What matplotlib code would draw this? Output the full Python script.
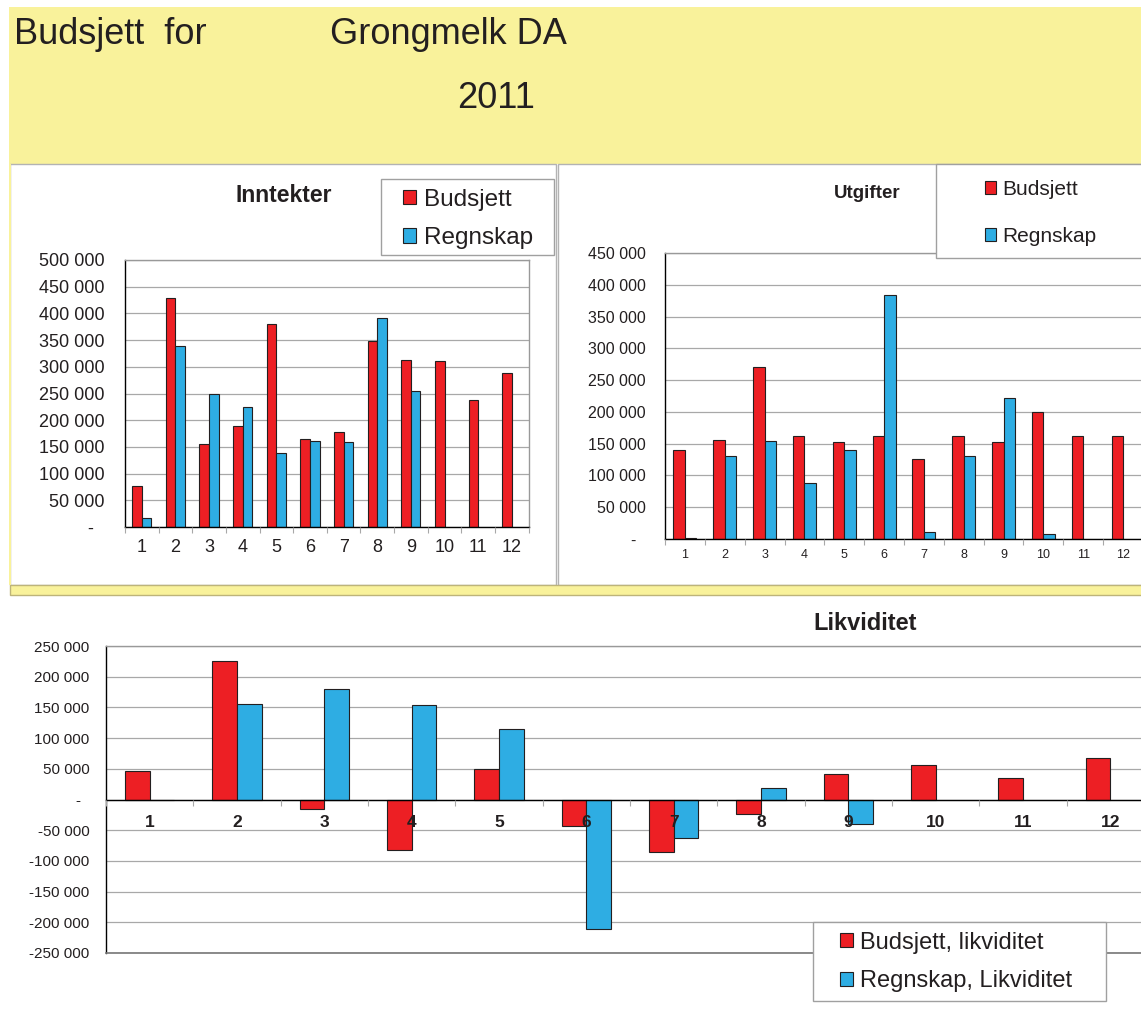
import numpy as np
import matplotlib
matplotlib.use("Agg")
import matplotlib.pyplot as plt
from matplotlib.patches import Rectangle

plt.rcParams['font.family'] = ['Liberation Sans', 'DejaVu Sans']

W, H = 1141, 1023
YELLOW = "#F9F29B"
RED = "#ED1F24"
BLUE = "#2EADE3"
EDGE = "#231F20"
GRID = "#A8A8A8"
TXT = "#231F20"

months = [str(m) for m in range(1, 13)]

# Inntekter (income)
inn_budsjett = [77000, 429000, 156000, 190000, 380000, 164000, 178000, 348000, 313000, 310000, 237000, 289000]
inn_regnskap = [17500, 339000, 250000, 225000, 139500, 161000, 159500, 391000, 255500, np.nan, np.nan, np.nan]

# Utgifter (expenses)
utg_budsjett = [139500, 155800, 270600, 162000, 152600, 162000, 125400, 162000, 152600, 199800, 162600, 162000]
utg_regnskap = [2000, 130000, 154700, 88000, 139500, 384500, 11000, 130000, 222000, 8000, np.nan, np.nan]

# Likviditet (liquidity)
lik_budsjett = [46000, 225000, -16000, -82500, 50000, -43000, -85000, -24000, 41500, 57000, 35500, 68000]
lik_regnskap = [-1500, 155500, 180500, 154500, 114500, -211500, -62000, 19000, -40000, np.nan, np.nan, np.nan]


def box(x0, y0, x1, y1):
    return [x0 / W, 1 - y1 / H, (x1 - x0) / W, (y1 - y0) / H]


def rect(x0, y0, x1, y1, **kw):
    r = Rectangle((x0 / W, 1 - y1 / H), (x1 - x0) / W, (y1 - y0) / H,
                  transform=fig.transFigure, **kw)
    fig.add_artist(r)
    return r


def fmt(v, _=None):
    if v == 0:
        return "-  "
    return f"{int(v):,}".replace(",", " ")


def bar_chart(ax, bud, reg, width, ymin, ymax, step, ysize, ypad, xsize, xpad):
    x = np.arange(1, 13)
    hb = ax.bar(x - width / 2, bud, width, color=RED, edgecolor=EDGE, linewidth=0.8, zorder=1.5)
    hr = ax.bar(x + width / 2, reg, width, color=BLUE, edgecolor=EDGE, linewidth=0.8, zorder=1.5)
    ax.set_xlim(0.5, 12.5)
    ax.set_ylim(ymin, ymax)
    ticks = np.arange(ymin, ymax + 1, step)
    for t in ticks:
        ax.axhline(t, color=GRID, lw=0.9, zorder=0.5)
    ax.set_yticks(ticks)
    ax.set_yticklabels([fmt(t) for t in ticks])
    ax.tick_params(axis='y', length=0, pad=ypad, labelsize=ysize, labelcolor=TXT)
    ax.set_xticks(x)
    ax.set_xticklabels(months)
    ax.tick_params(axis='x', which='major', length=0, pad=xpad, labelsize=xsize, labelcolor=TXT)
    ax.set_xticks(np.arange(0.5, 13, 1), minor=True)
    ax.tick_params(axis='x', which='minor', length=4, color=GRID, width=0.8)
    ax.xaxis.set_zorder(5)
    ax.spines['left'].set_color('black')
    ax.spines['bottom'].set_color('black')
    ax.spines['top'].set_color('#999999')
    ax.spines['right'].set_color('#999999')
    for s in ax.spines.values():
        s.set_linewidth(1.0)
    return hb, hr


def legend(handles, labels, cx, cy, size, spacing):
    fig.legend(handles, labels, loc='center left',
               bbox_to_anchor=(cx / W, 1 - cy / H), bbox_transform=fig.transFigure,
               frameon=False, fontsize=size, handlelength=0.55, handleheight=0.55,
               handletextpad=0.3, labelspacing=spacing, borderpad=0, borderaxespad=0,
               labelcolor=TXT)


fig = plt.figure(figsize=(W / 100, H / 100), dpi=100)

# background panels
rect(9, 7, W + 2, 164, facecolor=YELLOW, edgecolor='none', zorder=-2)
rect(10, 164, 556, 585, facecolor='white', edgecolor='#B3B3B3', lw=1, zorder=-1)
rect(558, 164, W + 2, 585, facecolor='white', edgecolor='#B3B3B3', lw=1, zorder=-1)
rect(10, 585, W + 2, 595, facecolor=YELLOW, edgecolor='#BDB47A', lw=1, zorder=-1)
rect(9, 164, 11, 585, facecolor=YELLOW, edgecolor='none', zorder=-1)

fig.text(14 / W, 1 - 34 / H, "Budsjett  for", fontsize=26, color=TXT, va='center', ha='left')
fig.text(330 / W, 1 - 34 / H, "Grongmelk DA", fontsize=26, color=TXT, va='center', ha='left')
fig.text(496 / W, 1 - 98 / H, "2011", fontsize=26, color=TXT, va='center', ha='center')

# Inntekter
ax1 = fig.add_axes(box(125, 260, 528.6, 527))
hb, hr = bar_chart(ax1, inn_budsjett, inn_regnskap, 0.285, 0, 500000, 50000, 13, 15, 13, 9)
fig.text(284 / W, 1 - 196 / H, "Inntekter", fontsize=16.5, fontweight='bold', color=TXT, ha='center', va='center')
rect(381, 179, 554, 255, facecolor='white', edgecolor='#A0A0A0', lw=1, zorder=4)
legend([hb, hr], ["Budsjett", "Regnskap"], 403, 219, 17.5, 0.68)

# Utgifter
ax2 = fig.add_axes(box(665, 253, 1143, 539))
hb, hr = bar_chart(ax2, utg_budsjett, utg_regnskap, 0.29, 0, 450000, 50000, 11.5, 14, 9, 7)
fig.text(867 / W, 1 - 193 / H, "Utgifter", fontsize=13.5, fontweight='bold', color=TXT, ha='center', va='center')
rect(936, 164, W + 5, 258, facecolor='white', edgecolor='#A0A0A0', lw=1, zorder=4)
legend([hb, hr], ["Budsjett", "Regnskap"], 985, 213, 15, 1.35)

# Likviditet
ax3 = fig.add_axes(box(106, 646, 1154, 953))
hb, hr = bar_chart(ax3, lik_budsjett, lik_regnskap, 0.284, -250000, 250000, 50000, 11, 12, 12.5, 11)
ax3.spines['bottom'].set_position(('data', 0))
for lbl in ax3.get_xticklabels():
    lbl.set_fontweight('bold')
ax3.axhline(-250000, color='#777777', lw=1.2, zorder=3, clip_on=False)
fig.text(865 / W, 1 - 623 / H, "Likviditet", fontsize=17, fontweight='bold', color=TXT, ha='center', va='center')
rect(813, 922, 1106, 1001, facecolor='white', edgecolor='#A0A0A0', lw=1, zorder=4)
legend([hb, hr], ["Budsjett, likviditet", "Regnskap, Likviditet"], 840, 962, 17, 0.72)

fig.savefig("out.png", dpi=100)
